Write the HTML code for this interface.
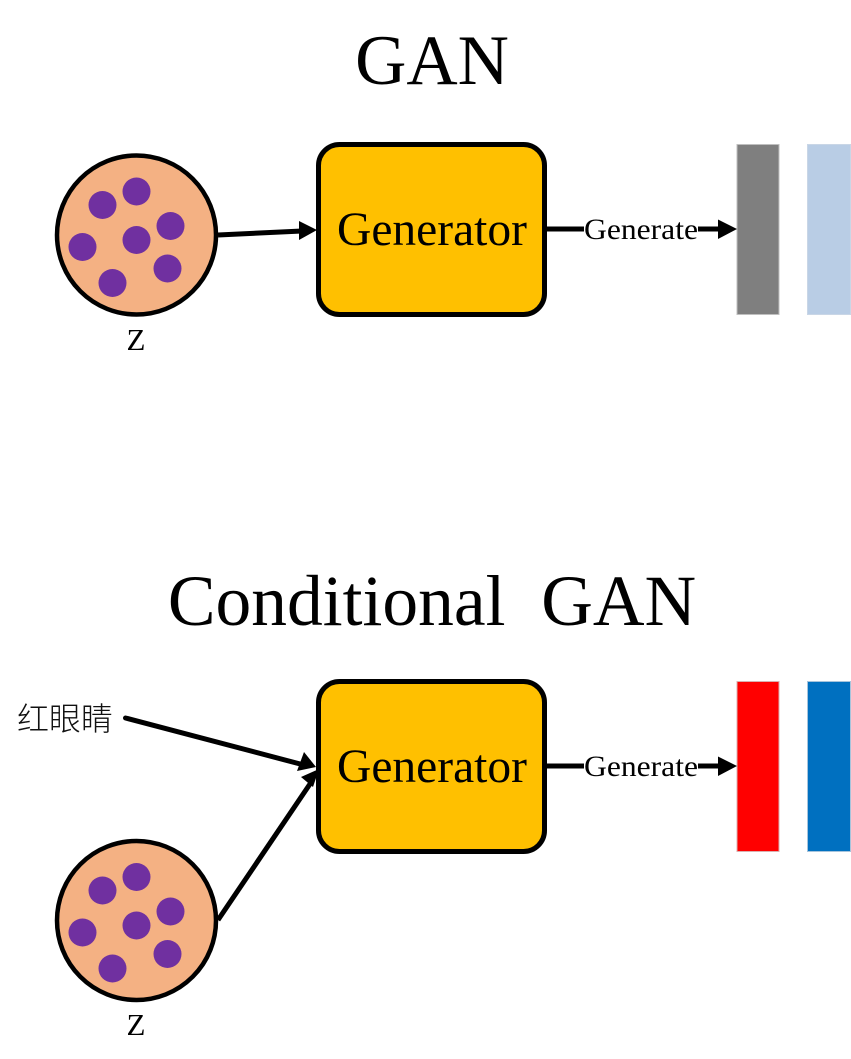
<!DOCTYPE html>
<html><head><meta charset="utf-8"><style>html,body{margin:0;padding:0;background:#fff}svg{display:block}</style></head><body>
<svg width="851" height="1059" viewBox="0 0 851 1059" xmlns="http://www.w3.org/2000/svg">
<defs>
<g id="dots" fill="#7030a0">
<circle cx="102.5" cy="205" r="14"/><circle cx="136.5" cy="191.5" r="14"/><circle cx="170.5" cy="226" r="14"/><circle cx="82.5" cy="247" r="14"/><circle cx="136.5" cy="240" r="14"/><circle cx="167.5" cy="268.5" r="14"/><circle cx="112.5" cy="283" r="14"/>
</g>
</defs>
<g font-family="'Liberation Serif',serif" fill="#000">
<text x="432" y="84" font-size="71" text-anchor="middle">GAN</text>
<text x="432" y="625" font-size="71.500" text-anchor="middle" xml:space="preserve">Conditional  GAN</text>
</g>
<circle cx="136.5" cy="235" r="79.500" fill="#f4b183" stroke="#000" stroke-width="4.500"/>
<use href="#dots"/>
<circle cx="136.5" cy="920.5" r="79.500" fill="#f4b183" stroke="#000" stroke-width="4.500"/>
<use href="#dots" y="685.5"/>
<text x="136" y="350" font-family="'Liberation Serif',serif" font-size="31" text-anchor="middle">Z</text>
<text x="136" y="1035" font-family="'Liberation Serif',serif" font-size="31" text-anchor="middle">Z</text>
<rect x="318.5" y="144.5" width="226" height="170" rx="21" fill="#ffc000" stroke="#000" stroke-width="5"/>
<rect x="318.5" y="681.5" width="226" height="170" rx="21" fill="#ffc000" stroke="#000" stroke-width="5"/>
<g font-family="'Liberation Serif',serif" font-size="47.500" text-anchor="middle">
<text x="432" y="245">Generator</text>
<text x="432" y="782">Generator</text>
</g>
<rect x="737" y="144.500" width="42" height="170" fill="#7f7f7f" stroke="#bfbfbf" stroke-width="1"/>
<rect x="807.500" y="144.500" width="43" height="170" fill="#b9cde5" stroke="#c9d6e6" stroke-width="1"/>
<rect x="737" y="681.500" width="42" height="170" fill="#ff0000" stroke="#d9b0b0" stroke-width="1"/>
<rect x="807.500" y="681.500" width="43" height="170" fill="#0070c0" stroke="#a6c4dc" stroke-width="1"/>
<g stroke="#000" stroke-width="5" fill="none">
<line x1="218" y1="235" x2="302" y2="231"/>
<line x1="547" y1="229" x2="584" y2="229"/>
<line x1="698" y1="229" x2="722" y2="229"/>
<line x1="547" y1="766" x2="584" y2="766"/>
<line x1="698" y1="766" x2="722" y2="766"/>
<line x1="125.500" y1="718" x2="304" y2="765" stroke-linecap="round"/>
<line x1="218" y1="920" x2="312" y2="781"/>
</g>
<g fill="#000">
<polygon points="317,230 299,221 299,240"/>
<polygon points="737,229 718,219.500 718,239"/>
<polygon points="737,766 718,756.500 718,776"/>
<polygon points="316,767 304,752 297,771"/>
<polygon points="319,769 301,777 313,787"/>
</g>
<g font-family="'Liberation Serif',serif" font-size="30" text-anchor="middle">
<text x="641" y="239" textLength="114" lengthAdjust="spacingAndGlyphs">Generate</text>
<text x="641" y="776" textLength="114" lengthAdjust="spacingAndGlyphs">Generate</text>
</g>
<text x="65" y="730" font-family="'Liberation Sans','Noto Sans CJK SC',sans-serif" font-size="32" font-weight="300" text-anchor="middle" fill="#111">红眼睛</text>
</svg>
</body></html>
